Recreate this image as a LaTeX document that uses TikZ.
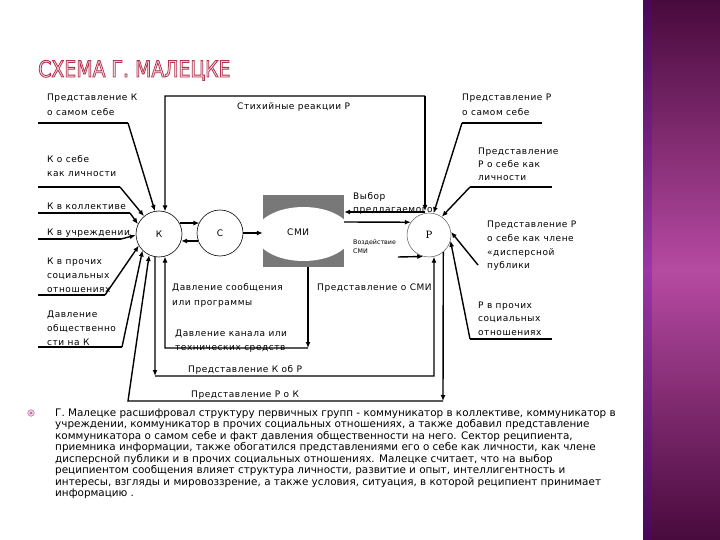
\documentclass[tikz,border=0pt]{standalone}
\usepackage{fontspec}
\setmainfont{DejaVu Sans}
\newfontfamily\lblfont{DejaVu Sans}[LetterSpace=6]
\newfontfamily\rfont{DejaVu Serif}
\usetikzlibrary{arrows.meta,calc}
\definecolor{ttlout}{RGB}{175,50,80}
\definecolor{ttlfill}{RGB}{252,228,234}
\definecolor{bandtop}{RGB}{72,10,60}
\definecolor{bandmid}{RGB}{182,74,162}
\definecolor{smigray}{RGB}{120,120,120}
\definecolor{bul}{RGB}{200,110,170}
\begin{document}
\begin{tikzpicture}[x=1pt,y=-1pt,
 arr/.style={line width=1.4pt,-{Latex[length=6pt,width=5pt]}},
 ln/.style={line width=1.4pt},
 lbl/.style={anchor=base west,inner sep=0pt,font=\lblfont\fontsize{9}{10}\selectfont},
 small/.style={anchor=base west,inner sep=0pt,font=\fontsize{6.3}{7}\selectfont},
 body/.style={anchor=base west,inner sep=0pt,font=\fontsize{10.4}{11}\selectfont,text=black},
 circ/.style={circle,draw,line width=0.6pt,inner sep=0pt,minimum size=46pt,font=\lblfont\fontsize{9}{10}\selectfont},
 ttl/.style={anchor=base west,inner sep=0pt,font=\fontsize{22.5}{24}\selectfont}
]
\useasboundingbox (0,0) rectangle (720,540);
\fill[white] (0,0) rectangle (720,540);
% side band
\shade[top color=bandtop,bottom color=bandtop,middle color=bandmid] (643,0) rectangle (720,540);
\fill[violet!60!blue,opacity=0.25] (643,0) rectangle (652,540);

% title (outlined letters)
\node[ttl,text=ttlfill] (title) at (38,77) {\special{pdf:literal direct 2 Tr 0.9 w 0.69 0.2 0.31 RG}\scalebox{0.84}[1]{СХЕМА Г. МАЛЕЦКЕ}\special{pdf:literal direct 0 Tr}};

% main nodes
\node[circ] (K) at (159,234) {К};
\node[circ] (C) at (220,233) {С};
\node[circ,minimum size=44pt,draw=black!65,line width=0.5pt,font=\rfont\fontsize{10}{11}\selectfont] (P) at (429,235) {Р};
\node[fill=smigray,inner sep=0pt,minimum width=81pt,minimum height=72pt] (SMI) at (303.5,231) {};
\begin{scope}
  \clip (SMI.south west) rectangle (SMI.north east);
  \fill[white] (303.5,234) ellipse [x radius=48, y radius=27];
\end{scope}
\node[lbl] (smil) at (287,236) {СМИ};

% K <-> C -> SMI
\draw[arr] (K.28) -- (K.28 -| C.152);
\draw[arr] (C.200) -- (C.200 -| K.-18);
\draw[arr] (C.east) -- (C.east -| SMI.west);

% top left label
\node[lbl] (l1a) at (47,101) {Представление К};
\node[lbl] (l1b) at (47,116) {о самом себе};
\coordinate (u1a) at (38,123); \coordinate (u1b) at (128,123);
\draw[ln] (u1a) -- (u1b);
\draw[arr] (u1b) -- (K.100);

% top loop
\coordinate (t1) at (165,96); \coordinate (t2) at (425,96); \coordinate (t3) at (425,211);
\draw[arr] (t2) -- (t1) -- (K.75);
\draw[arr] (t2) -- (t3);
\node[lbl] (stx) at (237,110) {Стихийные реакции Р};

% choice
\coordinate (v1) at (425,212);
\draw[arr] (v1) -- (v1 -| SMI.east);
\node[lbl] (vb1) at (353,200) {Выбор};
\node[lbl] (vb2) at (353,212) {предлагаемого};

% SMI -> P
\draw[arr] (SMI.east |- 0,222) -- (P.145);
\coordinate (w1) at (398,257);
\draw[arr] (w1) -- (P.255);
\node[small] (vz1) at (353,244) {Воздействие};
\node[small] (vz2) at (353,253) {СМИ};

% right labels
\node[lbl] (r1a) at (462,101) {Представление Р};
\node[lbl] (r1b) at (462,116) {о самом себе};
\coordinate (ur1a) at (462,123); \coordinate (ur1b) at (542,123);
\draw[ln] (ur1a) -- (ur1b);
\draw[arr] (ur1a) -- (P.78);

\node[lbl] (r2a) at (478,155) {Представление};
\node[lbl] (r2b) at (478,168) {Р о себе как};
\node[lbl] (r2c) at (478,181) {личности};
\coordinate (ur2a) at (470,187); \coordinate (ur2b) at (552,187);
\draw[ln] (ur2a) -- (ur2b);
\draw[arr] (ur2a) -- (P.55);

\node[lbl] (r3a) at (487,227) {Представление Р};
\node[lbl] (r3b) at (487,241) {о себе как члене};
\node[lbl] (r3c) at (487,255) {«дисперсной};
\node[lbl] (r3d) at (487,268) {публики};
\coordinate (ur3) at (478,265);
\draw[arr] (ur3) -- (P.8);

\node[lbl] (r4a) at (478,308) {Р в прочих};
\node[lbl] (r4b) at (478,321) {социальных};
\node[lbl] (r4c) at (478,335) {отношениях};
\coordinate (ur4a) at (470,339); \coordinate (ur4b) at (552,339);
\draw[ln] (ur4a) -- (ur4b);
\draw[arr] (ur4a) -- (P.-15);

% left labels
\node[lbl] (k1a) at (47,163) {К о себе};
\node[lbl] (k1b) at (47,177) {как личности};
\coordinate (uk1a) at (38,187); \coordinate (uk1b) at (120,187);
\draw[ln] (uk1a) -- (uk1b);
\draw[arr] (uk1b) -- (K.130);

\node[lbl] (k2) at (47,210) {К в коллективе};
\coordinate (uk2a) at (38,213); \coordinate (uk2b) at (130,213);
\draw[ln] (uk2a) -- (uk2b);
\draw[arr] (uk2b) -- (K.155);

\node[lbl] (k3) at (47,236) {К в учреждении};
\coordinate (uk3a) at (38,239); \coordinate (uk3b) at (121,239);
\draw[ln] (uk3a) -- (uk3b);
\draw[arr] (uk3b) -- (K.183);

\node[lbl] (k4a) at (47,264) {К в прочих};
\node[lbl] (k4b) at (47,278) {социальных};
\node[lbl] (k4c) at (47,292) {отношениях};
\coordinate (uk4a) at (38,295); \coordinate (uk4b) at (105,295);
\draw[ln] (uk4a) -- (uk4b);
\draw[arr] (uk4b) -- (K.210);

\node[lbl] (k5a) at (47,317) {Давление};
\node[lbl] (k5b) at (47,331) {общественно};
\node[lbl] (k5c) at (47,345) {сти на К};
\coordinate (uk5a) at (38,347); \coordinate (uk5b) at (122,347);
\draw[ln] (uk5a) -- (uk5b);
\draw[arr] (uk5b) -- (K.225);

% SMI loop
\coordinate (s1) at (308,0 |- SMI.south);
\coordinate (s2) at (308,348); \coordinate (s3) at (165,348);
\draw[arr] (s1) -- (s2);
\draw[arr] (s2) -- (s3) -- (K.285);
\node[lbl] (m1a) at (172,290) {Давление сообщения};
\node[lbl] (m1b) at (172,305) {или программы};
\node[lbl] (m2) at (317,290) {Представление о СМИ};
\node[lbl] (m3a) at (175,336) {Давление канала или};
\node[lbl] (m3b) at (175,350) {технических средств};

% K -> P loop
\coordinate (b1) at (155,376); \coordinate (b2) at (434,376);
\draw[arr] (K.260) -- (b1);
\draw[arr] (b1) -- (b2) -- (P.-77);
\node[lbl] (kp) at (188,372) {Представление К об Р};

% P -> K loop
\coordinate (c1) at (443,401); \coordinate (c2) at (128,401);
\draw[arr] (P.-50) -- (c1);
\draw[arr] (c1) -- (c2) -- (K.245);
\node[lbl] (pk) at (191,397) {Представление Р о К};

% bullet text
\node[circle,draw=bul,fill=bul!25,line width=0.6pt,minimum size=6.5pt,inner sep=0pt] (bul) at (31,413) {};
\fill[bul] (bul.center) circle (1.6);
\node[body] (t1) at (55,416.0) {Г. Малецке расшифровал структуру первичных групп - коммуникатор в коллективе, коммуникатор в};
\node[body] (t2) at (55,427.6) {учреждении, коммуникатор в прочих социальных отношениях, а также добавил представление};
\node[body] (t3) at (55,439.1) {коммуникатора о самом себе и факт давления общественности на него. Сектор реципиента,};
\node[body] (t4) at (55,450.7) {приемника информации, также обогатился представлениями его о себе как личности, как члене};
\node[body] (t5) at (55,462.2) {дисперсной публики и в прочих социальных отношениях. Малецке считает, что на выбор};
\node[body] (t6) at (55,473.8) {реципиентом сообщения влияет структура личности, развитие и опыт, интеллигентность и};
\node[body] (t7) at (55,485.3) {интересы, взгляды и мировоззрение, а также условия, ситуация, в которой реципиент принимает};
\node[body] (t8) at (55,496.9) {информацию .};
\end{tikzpicture}
\end{document}
